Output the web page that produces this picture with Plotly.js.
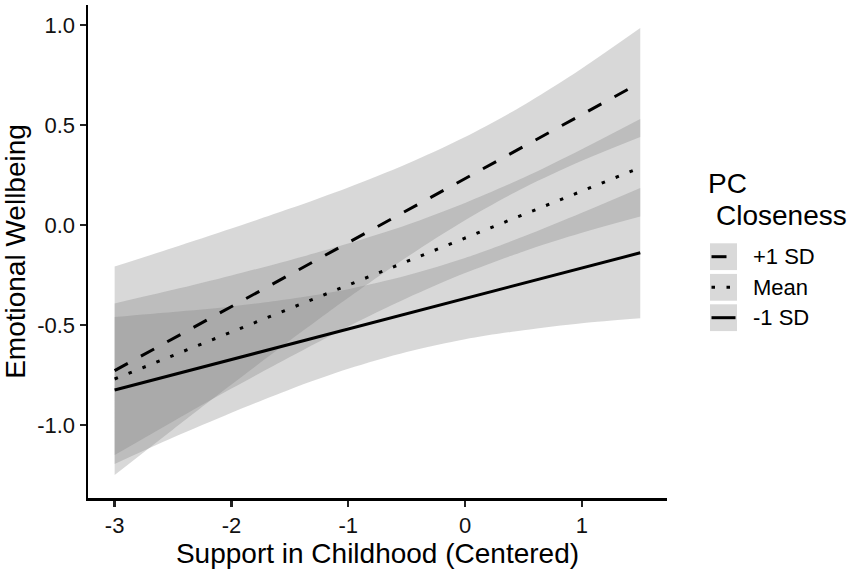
<!DOCTYPE html>
<html>
<head>
<meta charset="utf-8">
<script src="https://cdn.plot.ly/plotly-3.0.1.min.js"></script>
<style>html,body{margin:0;padding:0;background:#fff;}#chart{width:851px;height:571px;}</style>
</head>
<body>
<div id="chart"></div>
<script>
// ---- data ----
const xs = [-3, -2.5, -2, -1.5, -1, -0.5, 0, 0.5, 1, 1.5];
// +1 SD ribbon
const hiUpper = [-0.208, -0.114, -0.018, 0.082, 0.188, 0.305, 0.440, 0.599, 0.783, 0.985];
const hiLower = [-1.250, -1.022, -0.798, -0.578, -0.364, -0.161, 0.024, 0.185, 0.321, 0.440];
// Mean ribbon
const meanUpper = [-0.392, -0.324, -0.252, -0.176, -0.093, 0.000, 0.110, 0.236, 0.379, 0.530];
const meanLower = [-1.150, -0.982, -0.818, -0.660, -0.507, -0.366, -0.240, -0.132, -0.039, 0.042];
// -1 SD ribbon
const loUpper = [-0.460, -0.435, -0.407, -0.370, -0.321, -0.253, -0.165, -0.058, 0.061, 0.185];
const loLower = [-1.195, -1.063, -0.939, -0.822, -0.719, -0.635, -0.571, -0.526, -0.491, -0.466];
// fitted lines
const lineX = [-3, 1.5];
const hiLine = [-0.728, 0.712];
const meanLine = [-0.770, 0.287];
const loLine = [-0.825, -0.139];
const seriesNames = ['+1 SD', 'Mean', '-1 SD'];
const legendTitle = ['PC', 'Closeness'];
const xTicks = [-3, -2, -1, 0, 1];
const xTickText = ['-3', '-2', '-1', '0', '1'];
const yTicks = [-1, -0.5, 0, 0.5, 1];
const yTickText = ['-1.0', '-0.5', '0.0', '0.5', '1.0'];

// ---- styling ----
const FONT = 'Liberation Sans, Arial, Helvetica, sans-serif';
const RIBBON = 'rgba(127,127,127,0.3)';
const dashes = ['15px,15px', '3.5px,11.5px', 'solid'];
const W = 851, H = 571;
const M = {l: 88, r: 184, t: 5, b: 73};
const pw = W - M.l - M.r, ph = H - M.t - M.b;
const px = v => (v - M.l) / pw;        // pixel -> paper x
const py = v => (H - M.b - v) / ph;    // pixel -> paper y

function ribbon(lower, upper) {
  return [
    {x: xs, y: lower, mode: 'lines', line: {width: 0, shape: 'spline', smoothing: 0.8}, hoverinfo: 'skip', showlegend: false},
    {x: xs, y: upper, mode: 'lines', fill: 'tonexty', fillcolor: RIBBON, line: {width: 0, shape: 'spline', smoothing: 0.8}, hoverinfo: 'skip', showlegend: false}
  ];
}
const lineVals = [hiLine, meanLine, loLine];
const traces = [
  ...ribbon(hiLower, hiUpper),
  ...ribbon(meanLower, meanUpper),
  ...ribbon(loLower, loUpper),
  ...lineVals.map((yv, i) => ({
    x: lineX, y: yv, mode: 'lines', name: seriesNames[i], showlegend: false,
    line: {color: '#000', width: 3, dash: dashes[i]}
  }))
];

// manual legend (keys + labels)
const shapes = [], annotations = [];
const keyY = [256.7, 287.3, 317.7];
keyY.forEach((yc, i) => {
  shapes.push({type: 'rect', xref: 'paper', yref: 'paper', x0: px(710), x1: px(737), y0: py(yc + 13.4), y1: py(yc - 13.4), fillcolor: '#d9d9d9', line: {width: 0}, layer: 'above'});
  shapes.push({type: 'line', xref: 'paper', yref: 'paper', x0: px(711.5), x1: px(735.5), y0: py(yc), y1: py(yc), line: {color: '#000', width: 3, dash: dashes[i]}, layer: 'above'});
  annotations.push({xref: 'paper', yref: 'paper', x: px(751), y: py(yc), xanchor: 'left', yanchor: 'middle', showarrow: false, text: seriesNames[i], font: {family: FONT, size: 22, color: '#000'}});
});
annotations.push({xref: 'paper', yref: 'paper', x: px(706), y: py(183), xanchor: 'left', yanchor: 'middle', showarrow: false, text: legendTitle[0], font: {family: FONT, size: 28, color: '#000'}});
annotations.push({xref: 'paper', yref: 'paper', x: px(714), y: py(215), xanchor: 'left', yanchor: 'middle', showarrow: false, text: legendTitle[1], font: {family: FONT, size: 28, color: '#000'}});

const layout = {
  width: W, height: H,
  margin: M,
  paper_bgcolor: '#fff', plot_bgcolor: '#fff',
  showlegend: false,
  font: {family: FONT, color: '#000'},
  xaxis: {
    range: [-3.228, 1.729], tickvals: xTicks, ticktext: xTickText,
    showgrid: false, zeroline: false, showline: true, linecolor: '#000', linewidth: 2.5,
    ticks: 'outside', ticklen: 6, tickwidth: 2.5, tickcolor: '#222',
    tickfont: {family: FONT, size: 22, color: '#111'},
    title: {text: 'Support in Childhood (Centered)', font: {family: FONT, size: 28, color: '#000'}, standoff: 4},
    automargin: false
  },
  yaxis: {
    range: [-1.365, 1.1], tickvals: yTicks, ticktext: yTickText,
    showgrid: false, zeroline: false, showline: true, linecolor: '#000', linewidth: 2.5,
    ticks: 'outside', ticklen: 6, tickwidth: 2.5, tickcolor: '#222',
    tickfont: {family: FONT, size: 22, color: '#111'},
    title: {text: 'Emotional Wellbeing', font: {family: FONT, size: 28, color: '#000'}, standoff: 6},
    automargin: false
  },
  shapes: shapes,
  annotations: annotations
};

Plotly.newPlot('chart', traces, layout, {displayModeBar: false, staticPlot: true});
</script>
</body>
</html>
